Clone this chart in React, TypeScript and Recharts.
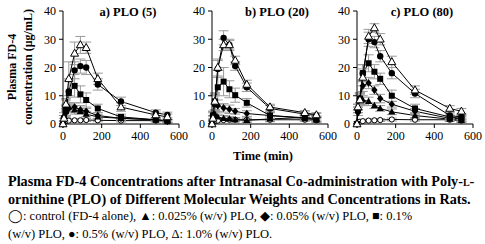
import { LineChart, Line, XAxis, YAxis, ErrorBar } from 'recharts';

// sampling times (min)
const times = [0, 5, 15, 30, 60, 90, 120, 180, 300, 480, 540];
const xTicks = [0, 200, 400, 600];
const yTicks = [0, 10, 20, 30, 40];

// a) PLO (5)
const ctrlA = [0, 0.5, 1, 1.2, 1.3, 1.3, 1.4, 1.3, 1.2, 1.2, 1.0];
const p025A = [0, 3, 6.5, 6, 5, 4.5, 3.5, 2.5, 2, 1.5, 1.2];
const p05A = [0, 2, 4, 5.5, 6, 5, 4.5, 3, 2, 1.5, 1];
const p1A = [0, 2, 4.5, 11, 13.5, 10.5, 8.5, 5.5, 2.5, 1.5, 1];
const p5A = [0, 2, 5, 11.5, 19, 20.5, 20, 14, 8, 4, 3.2];
const p10A = [0, 2, 7, 16, 25, 28, 27, 16, 6, 3.2, 2.5];
const eCtrlA = [0, 0.3, 0.5, 0.5, 0.5, 0.5, 0.5, 0.5, 0.5, 0.5, 0.5];
const e025A = [0, 1, 2, 1.5, 1.5, 1, 1, 0.8, 0.5, 0.5, 0.5];
const e05A = [0, 1, 1.5, 1.5, 1.5, 1.5, 1, 1, 0.8, 0.5, 0.5];
const e1A = [0, 1, 2, 5, 4, 3, 2.5, 1.5, 1, 0.5, 0.5];
const e5A = [0, 1, 2, 4, 3, 2.5, 2.5, 2, 1.5, 1, 1];
const e10A = [0, 1, 2, 6, 4, 3, 2, 2, 1.5, 1, 1];

// b) PLO (20)
const ctrlB = [0, 0.5, 1, 1.2, 1.4, 1.5, 1.5, 1.5, 1.5, 1.5, 1.3];
const p025B = [0, 2, 3.5, 2.5, 2, 1.8, 1.5, 1.3, 1.8, 2.3, 1.8];
const p05B = [0, 3, 7.5, 6.5, 5.7, 5.2, 4.5, 3.7, 3, 2.2, 1.9];
const p1B = [0, 3, 8, 13, 15, 12.3, 10.2, 7.5, 3, 2, 1.5];
const p5B = [0, 3, 7, 19.5, 30.5, 28, 20.5, 13, 5.5, 3.5, 3];
const p10B = [0, 2, 8, 20, 28, 28, 22.5, 14, 6, 4, 3.2];
const eCtrlB = [0, 0.3, 0.5, 0.5, 0.5, 0.5, 0.5, 0.5, 0.5, 0.5, 0.5];
const e025B = [0, 0.8, 1.5, 1, 1, 0.8, 0.8, 0.8, 1, 1, 1];
const e05B = [0, 1, 3, 2, 1.5, 1.5, 1, 1, 1, 0.8, 0.8];
const e1B = [0, 1.5, 3, 6, 5, 3, 2.5, 1.5, 1, 1, 1];
const e5B = [0, 1.5, 3, 3, 2.5, 2, 1.5, 1.5, 1, 0.8, 0.8];
const e10B = [0, 1, 3, 3, 2, 1.5, 1.5, 1.5, 1, 0.8, 0.8];

// c) PLO (80)
const ctrlC = [0, 0.5, 0.8, 1, 1.2, 1.3, 1.4, 1.6, 1.5, 1.5, 1.2];
const p025C = [0, 6, 9, 8.5, 8, 6.5, 5.5, 4.3, 3, 1.7, 1.3];
const p05C = [0, 4, 9, 13.5, 14.5, 12, 9, 7, 4.5, 2, 1.8];
const p1C = [0, 5, 9, 18, 21.5, 18.5, 16, 10, 5.5, 2.5, 2];
const p5C = [0, 5, 9, 18, 30, 29, 24, 18, 10.8, 3, 2.5];
const p10C = [0, 6, 8.5, 16.5, 31, 34, 30, 22, 12, 5.5, 4.5];
const eCtrlC = [0, 0.3, 0.5, 0.5, 0.5, 0.5, 0.5, 0.5, 0.5, 0.5, 0.5];
const e025C = [0, 1, 2, 1.5, 1.5, 1, 1, 1, 0.8, 0.8, 0.8];
const e05C = [0, 1, 2, 2, 2, 1.5, 1.5, 1, 1, 0.8, 0.8];
const e1C = [0, 1, 2, 3, 3, 2.5, 2, 2, 1.5, 1, 1];
const e5C = [0, 1, 2, 3, 2.5, 2, 2, 2, 1.5, 1, 1];
const e10C = [0, 1, 2, 3, 2.5, 1.5, 2, 2, 1.5, 1, 1];

const FONT = '"Liberation Serif", "Times New Roman", serif';

const buildRows = (
  ctrl: number[], p025: number[], p05: number[], p1: number[], p5: number[], p10: number[],
  eCtrl: number[], e025: number[], e05: number[], e1: number[], e5: number[], e10: number[],
) =>
  times.map((t, i) => ({
    t,
    ctrl: ctrl[i], p025: p025[i], p05: p05[i], p1: p1[i], p5: p5[i], p10: p10[i],
    eCtrl: eCtrl[i], e025: e025[i], e05: e05[i], e1: e1[i], e5: e5[i], e10: e10[i],
  }));

const panels = [
  { title: 'a) PLO (5)', left: 40, rows: buildRows(ctrlA, p025A, p05A, p1A, p5A, p10A, eCtrlA, e025A, e05A, e1A, e5A, e10A) },
  { title: 'b) PLO (20)', left: 189, rows: buildRows(ctrlB, p025B, p05B, p1B, p5B, p10B, eCtrlB, e025B, e05B, e1B, e5B, e10B) },
  { title: 'c) PLO (80)', left: 334, rows: buildRows(ctrlC, p025C, p05C, p1C, p5C, p10C, eCtrlC, e025C, e05C, e1C, e5C, e10C) },
];

// marker shapes
const openCircle = (p: any) => (
  <circle key={`oc-${p.index}`} cx={p.cx} cy={p.cy} r={2.6} fill="#fff" stroke="#000" strokeWidth={1} />
);
const fillTri = (p: any) => (
  <polygon key={`ft-${p.index}`} points={`${p.cx},${p.cy - 3.8} ${p.cx + 3.6},${p.cy + 2.6} ${p.cx - 3.6},${p.cy + 2.6}`} fill="#000" />
);
const diamond = (p: any) => (
  <polygon key={`dm-${p.index}`} points={`${p.cx},${p.cy - 3.8} ${p.cx + 3.2},${p.cy} ${p.cx},${p.cy + 3.8} ${p.cx - 3.2},${p.cy}`} fill="#000" />
);
const square = (p: any) => (
  <rect key={`sq-${p.index}`} x={p.cx - 3} y={p.cy - 3} width={6} height={6} fill="#000" />
);
const fillCircle = (p: any) => (
  <circle key={`fc-${p.index}`} cx={p.cx} cy={p.cy} r={3.2} fill="#000" />
);
const openTri = (p: any) => (
  <polygon key={`ot-${p.index}`} points={`${p.cx},${p.cy - 4.2} ${p.cx + 4},${p.cy + 2.8} ${p.cx - 4},${p.cy + 2.8}`} fill="#fff" stroke="#000" strokeWidth={1} />
);

const series = [
  { key: 'ctrl', err: 'eCtrl', dot: openCircle },
  { key: 'p025', err: 'e025', dot: fillTri },
  { key: 'p05', err: 'e05', dot: diamond },
  { key: 'p1', err: 'e1', dot: square },
  { key: 'p5', err: 'e5', dot: fillCircle },
  { key: 'p10', err: 'e10', dot: openTri },
];

const tickStyle = { fill: '#000', fontSize: 12, fontFamily: FONT };

function Panel({ rows, title, left }: { rows: any[]; title: string; left: number }) {
  return (
    <div style={{ position: 'absolute', left, top: 0 }}>
      <LineChart width={149} height={146} data={rows} margin={{ top: 11, right: 10, bottom: 0, left: 0 }}>
        <XAxis
          dataKey="t"
          type="number"
          domain={[0, 600]}
          ticks={xTicks}
          tick={tickStyle}
          tickSize={4}
          tickMargin={3}
          stroke="#000"
          height={22}
        />
        <YAxis
          type="number"
          domain={[0, 40]}
          ticks={yTicks}
          tick={tickStyle}
          tickSize={4}
          tickMargin={3}
          stroke="#000"
          width={23}
        />
        {series.map(s => (
          <Line
            key={s.key}
            dataKey={s.key}
            stroke="#000"
            strokeWidth={1}
            dot={s.dot}
            activeDot={false}
            isAnimationActive={false}
          >
            <ErrorBar dataKey={s.err} direction="y" width={5} stroke="#9a9a9a" strokeWidth={1} />
          </Line>
        ))}
      </LineChart>
      <div
        style={{
          position: 'absolute',
          left: 25,
          top: 5,
          width: 126,
          textAlign: 'center',
          fontFamily: FONT,
          fontWeight: 'bold',
          fontSize: 12.5,
          lineHeight: '14px',
        }}
      >
        {title}
      </div>
    </div>
  );
}

export default function App() {
  return (
    <div
      style={{
        position: 'absolute',
        left: 0,
        top: 0,
        width: 485,
        height: 244,
        background: '#fff',
        overflow: 'hidden',
        fontFamily: FONT,
        color: '#000',
      }}
    >
      {panels.map(p => (
        <Panel key={p.title} rows={p.rows} title={p.title} left={p.left} />
      ))}

      {/* y-axis label */}
      <div
        style={{
          position: 'absolute',
          left: 20,
          top: 67,
          transform: 'translate(-50%, -50%) rotate(-90deg)',
          whiteSpace: 'nowrap',
          textAlign: 'center',
          fontWeight: 'bold',
          fontSize: 12,
          lineHeight: '16px',
        }}
      >
        Plasma FD-4
        <br />
        concentration (μg/mL)
      </div>

      {/* x-axis label */}
      <div
        style={{
          position: 'absolute',
          left: 263,
          top: 149,
          transform: 'translateX(-50%)',
          whiteSpace: 'nowrap',
          fontWeight: 'bold',
          fontSize: 12.5,
        }}
      >
        Time (min)
      </div>

      {/* caption */}
      <div
        style={{
          position: 'absolute',
          left: 8,
          top: 173,
          width: 477,
          lineHeight: '17.5px',
          whiteSpace: 'nowrap',
        }}
      >
        <div style={{ fontWeight: 'bold', fontSize: 14.2 }}>
          Plasma FD-4 Concentrations after Intranasal Co-administration with Poly-
          <span style={{ fontVariant: 'small-caps' }}>l</span>-
          <br />
          ornithine (PLO) of Different Molecular Weights and Concentrations in Rats.
        </div>
        <div style={{ fontSize: 12.5 }}>
          ◯: control (FD-4 alone), ▲: 0.025% (w/v) PLO, ◆: 0.05% (w/v) PLO, ■: 0.1%
          <br />
          (w/v) PLO, ●: 0.5% (w/v) PLO, Δ: 1.0% (w/v) PLO.
        </div>
      </div>
    </div>
  );
}
